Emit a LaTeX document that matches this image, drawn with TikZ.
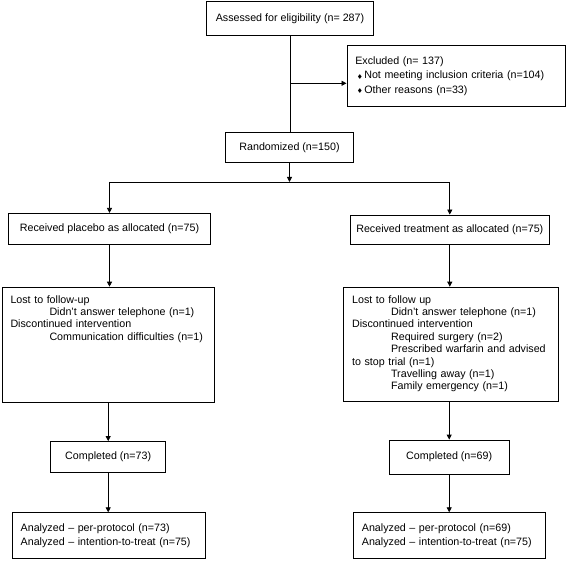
\documentclass[tikz,border=0pt]{standalone}
\usepackage{amssymb}
\usepackage{fontspec}
\setmainfont{Liberation Sans}
\usetikzlibrary{arrows.meta}
\newcommand{\itemdot}{\hspace*{2pt}\makebox[7pt][l]{\raisebox{0.6pt}{$\scriptscriptstyle\blacklozenge$}}}
\newcommand{\subline}{\hspace*{39pt}}
\begin{document}
\begin{tikzpicture}[>={Triangle[length=5pt,width=5pt]},x=1pt,y=-1pt,
		box/.style={draw,line width=0.8pt,inner sep=0pt,font=\fontsize{10.7}{12.4}\selectfont},
		listbox/.style={box,align=left,inner xsep=8.4pt},
		line/.style={line width=0.8pt},
		link/.style={line width=0.8pt,->}]
		\useasboundingbox (0,0) rectangle (567,561);
		% enrolment
		\node[box,minimum width=166.6pt,minimum height=33.3pt] (assess) at (290,18.4) {Assessed for eligibility (n= 287)};
		\node[listbox,text width=201.6pt,minimum height=61.7pt] (excl) at (456.1,75.9) {Excluded (n= 137)\\[2pt]\itemdot Not meeting inclusion criteria (n=104)\\[2pt]\itemdot Other reasons (n=33)};
		\node[box,minimum width=127.6pt,minimum height=30pt] (rand) at (289.5,147.3) {Randomized (n=150)};
		% allocation
		\node[box,minimum width=202.4pt,minimum height=30.7pt] (plac) at (109.5,228.7) {Received placebo as allocated (n=75)};
		\node[box,minimum width=199.7pt,minimum height=29pt] (treat) at (449.8,229.5) {Received treatment as allocated (n=75)};
		% follow-up
		\node[listbox,anchor=north west,text width=195.7pt,text height=16pt,text depth=99.6pt] (lostp) at (1.7,286.7) {Lost to follow-up\\\subline Didn't answer telephone (n=1)\\Discontinued intervention\\\subline Communication difficulties (n=1)};
		\node[listbox,anchor=north west,text width=197.8pt,text height=16pt,text depth=98.5pt] (losttr) at (343.3,286.7) {Lost to follow up\\\subline Didn't answer telephone (n=1)\\Discontinued intervention\\\subline Required surgery (n=2)\\\subline Prescribed warfarin and advised\\to stop trial (n=1)\\\subline Travelling away (n=1)\\\subline Family emergency (n=1)};
		\node[box,minimum width=115pt,minimum height=31pt] (compp) at (108.2,457) {Completed (n=73)};
		\node[box,minimum width=119.7pt,minimum height=34pt] (comptr) at (449.2,457) {Completed (n=69)};
		% analysis
		\node[listbox,text width=176.6pt,minimum height=45.6pt] (anap) at (109,535.5) {Analyzed -- per-protocol (n=73)\\[2pt]Analyzed -- intention-to-treat (n=75)};
		\node[listbox,text width=174.6pt,minimum height=45.6pt] (anatr) at (449.2,535.5) {Analyzed -- per-protocol (n=69)\\[2pt]Analyzed -- intention-to-treat (n=75)};
		\coordinate (split) at (290.7,83.3);
		\coordinate (fork) at (289.5,182);
		\draw[line] (assess.south) -- (assess.south |- rand.north);
		\draw[link] (split) -- (split -| excl.west);
		\draw[link] (rand.south) -- (rand.south |- fork);
		\draw[line] (fork -| plac.north) -- (fork -| treat.north);
		\draw[link] (fork -| plac.north) -- (plac.north);
		\draw[link] (fork -| treat.north) -- (treat.north);
		\draw[link] (plac.south) -- (plac.south |- lostp.north);
		\draw[link] (treat.south) -- (treat.south |- losttr.north);
		\draw[link] (compp.north |- lostp.south) -- (compp.north);
		\draw[link] (comptr.north |- losttr.south) -- (comptr.north);
		\draw[link] (compp.south) -- (compp.south |- anap.north);
		\draw[link] (comptr.south) -- (comptr.south |- anatr.north);
	\end{tikzpicture}
\end{document}
